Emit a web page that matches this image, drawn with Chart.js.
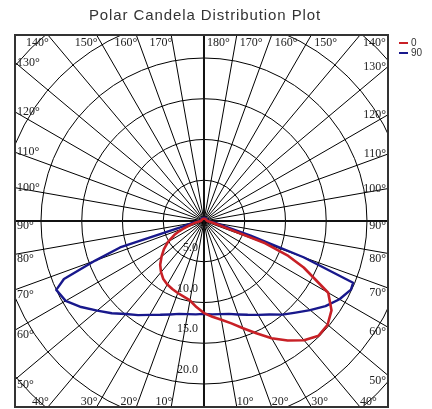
<!DOCTYPE html>
<html>
<head>
<meta charset="utf-8">
<script src="https://cdn.jsdelivr.net/npm/chart.js@4.4.0/dist/chart.umd.min.js"></script>
<style>
  html, body { margin: 0; padding: 0; background: #fff; }
  #wrap { width: 432px; height: 409px; }
</style>
</head>
<body>
<div id="wrap"><canvas id="polar" width="432" height="409"></canvas></div>
<script>
// vertical angles, degrees from nadir (same list for both halves)
const angles = [0, 5, 10, 15, 20, 25, 30, 35, 40, 45, 50, 55, 60, 65, 67.5, 70, 72.5, 75, 80, 85, 90, 120, 150, 180];

// candela values
const c0Right = [11.3, 11.8, 12.3, 13.0, 14.0, 15.2, 16.6, 17.9, 19.1, 19.9, 19.8, 19.1, 17.6, 13.5, 11.2, 8.0, 3.0, 1.8, 1.0, 0.6, 0.4, 0.3, 0.3, 0.3];
const c0Left = [11.3, 10.6, 9.9, 9.6, 9.4, 9.2, 9.0, 8.7, 8.2, 7.6, 6.8, 6.0, 5.1, 4.0, 3.3, 2.6, 2.0, 1.6, 1.0, 0.6, 0.4, 0.3, 0.3, 0.3];
const c90Right = [11.4, 11.5, 11.6, 11.8, 12.2, 12.7, 13.3, 14.0, 15.0, 15.9, 17.0, 18.2, 19.2, 19.9, 19.8, 13.0, 6.0, 3.0, 1.5, 0.8, 0.5, 0.4, 0.4, 0.4];
const c90Left = [11.4, 11.5, 11.6, 11.8, 12.2, 12.7, 13.3, 14.1, 14.9, 16.0, 17.1, 18.4, 19.6, 20.0, 18.6, 14.2, 10.8, 3.0, 1.5, 0.8, 0.5, 0.4, 0.4, 0.4];

const seriesNames = ['0', '90'];
const ringValues = [5, 10, 15, 20, 25, 30, 35];
const ringLabels = ['5.0', '10.0', '15.0', '20.0'];
const spokeAngles = [10, 20, 30, 40, 50, 60, 70, 80, 90, 100, 110, 120, 130, 140, 150, 160, 170];

const RED = 'rgb(200, 32, 38)';
const BLUE = 'rgb(24, 24, 140)';

// polar -> xy, left half goes 180..0, right half 0..180
function curve(left, right) {
    const pts = [];
    for (let i = angles.length - 1; i >= 0; i--) {
        const a = angles[i] * Math.PI / 180;
        pts.push({ x: -left[i] * Math.sin(a), y: -left[i] * Math.cos(a) });
    }
    for (let i = 1; i < angles.length; i++) {
        const a = angles[i] * Math.PI / 180;
        pts.push({ x: right[i] * Math.sin(a), y: -right[i] * Math.cos(a) });
    }
    return pts;
}

const polarGrid = {
    id: 'polarGrid',
    beforeDatasetsDraw(chart) {
        const { ctx, chartArea: area } = chart;
        const xs = chart.scales.x, ys = chart.scales.y;
        const cx = xs.getPixelForValue(0), cy = ys.getPixelForValue(0);
        const kx = xs.getPixelForValue(1) - cx, ky = cy - ys.getPixelForValue(1);

        ctx.save();
        ctx.beginPath();
        ctx.rect(area.left, area.top, area.right - area.left, area.bottom - area.top);
        ctx.clip();

        ctx.strokeStyle = '#000';
        ctx.lineWidth = 1;
        ringValues.forEach(v => {
            ctx.beginPath();
            ctx.ellipse(cx, cy, v * kx, v * ky, 0, 0, Math.PI * 2);
            ctx.stroke();
        });
        spokeAngles.forEach(a => {
            const r = a * Math.PI / 180;
            [-1, 1].forEach(s => {
                ctx.beginPath();
                ctx.moveTo(cx, cy);
                ctx.lineTo(cx + s * Math.sin(r) * 500, cy + Math.cos(r) * 500);
                ctx.stroke();
            });
        });

        // main axes
        ctx.strokeStyle = '#111';
        ctx.lineWidth = 2;
        ctx.beginPath();
        ctx.moveTo(cx, area.top); ctx.lineTo(cx, area.bottom);
        ctx.moveTo(area.left, cy); ctx.lineTo(area.right, cy);
        ctx.stroke();
        ctx.restore();

        // ring labels
        ctx.save();
        ctx.fillStyle = '#222';
        ctx.font = '12px "Liberation Serif", serif';
        ctx.textAlign = 'right';
        ctx.textBaseline = 'middle';
        ringLabels.forEach((t, i) => {
            ctx.fillText(t, cx - 6, ys.getPixelForValue(-ringValues[i]) - 14);
        });

        // angle labels on the frame
        const place = (deg, s) => {
            const r = deg * Math.PI / 180;
            const dx = s * Math.sin(r), dy = Math.cos(r);
            const tx = Math.abs(dx) < 1e-9 ? Infinity : (s > 0 ? area.right - cx : cx - area.left) / Math.abs(dx);
            const ty = Math.abs(dy) < 1e-9 ? Infinity : (dy > 0 ? area.bottom - cy : cy - area.top) / Math.abs(dy);
            const t = Math.min(tx, ty);
            const ix = cx + dx * t, iy = cy + dy * t;
            const txt = deg + '°';
            if (tx < ty) {
                ctx.textAlign = s < 0 ? 'left' : 'right';
                const x = s < 0 ? area.left + 2 : area.right - 2;
                ctx.fillText(txt, x, iy + (deg <= 90 ? 5 : 0));
            } else if (dy < 0) {
                ctx.textAlign = s < 0 ? 'right' : 'left';
                ctx.fillText(txt, s < 0 ? ix + 1 : ix + 3, area.top + 8);
            } else {
                ctx.textAlign = s < 0 ? 'right' : 'left';
                ctx.fillText(txt, s < 0 ? ix + 1 : ix, area.bottom - 5);
            }
        };
        spokeAngles.forEach(a => { place(a, -1); place(a, 1); });
        place(180, 1);
        ctx.restore();
    },
    afterDraw(chart) {
        const { ctx, chartArea: area } = chart;
        ctx.save();
        // frame
        ctx.strokeStyle = '#333';
        ctx.lineWidth = 2;
        ctx.strokeRect(area.left, area.top, area.right - area.left, area.bottom - area.top);

        // title
        ctx.fillStyle = '#333';
        ctx.font = '15px "Liberation Sans", Arial, sans-serif';
        ctx.letterSpacing = '0.9px';
        ctx.textAlign = 'center';
        ctx.textBaseline = 'middle';
        ctx.fillText('Polar Candela Distribution Plot', 205, 16);
        ctx.letterSpacing = '0px';

        // legend
        ctx.font = '10px "Liberation Sans", Arial, sans-serif';
        ctx.textAlign = 'left';
        chart.data.datasets.forEach((ds, i) => {
            const y = 43 + i * 10;
            ctx.strokeStyle = ds.borderColor;
            ctx.lineWidth = 2;
            ctx.beginPath();
            ctx.moveTo(399, y); ctx.lineTo(408, y);
            ctx.stroke();
            ctx.fillStyle = '#333';
            ctx.fillText(ds.label, 411, y);
        });
        ctx.restore();
    }
};

const ctx = document.getElementById('polar').getContext('2d');
new Chart(ctx, {
    type: 'scatter',
    data: {
        datasets: [
            { label: seriesNames[0], data: curve(c0Left, c0Right), borderColor: RED, borderWidth: 2.6, showLine: true, pointRadius: 0, tension: 0, borderJoinStyle: 'round' },
            { label: seriesNames[1], data: curve(c90Left, c90Right), borderColor: BLUE, borderWidth: 2.4, showLine: true, pointRadius: 0, tension: 0, borderJoinStyle: 'round' }
        ]
    },
    options: {
        responsive: false,
        animation: false,
        layout: { padding: { left: 15, right: 44, top: 35, bottom: 2 } },
        scales: {
            x: { type: 'linear', min: -23.19, max: 22.58, display: false },
            y: { type: 'linear', min: -22.82, max: 22.82, display: false }
        },
        plugins: {
            legend: { display: false },
            title: { display: false },
            tooltip: { enabled: false }
        }
    },
    plugins: [polarGrid]
});
</script>
</body>
</html>
